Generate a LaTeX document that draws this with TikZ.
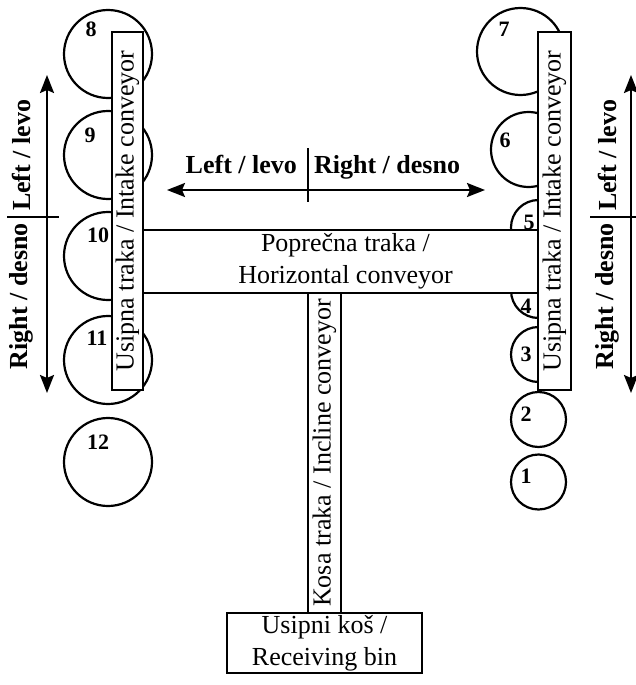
\documentclass[tikz,border=0pt]{standalone}
\usepackage{fontspec}
\setmainfont{Liberation Serif}
\usetikzlibrary{arrows.meta}
\begin{document}
\begin{tikzpicture}[x=1pt,y=-1pt, line width=2.2pt,
  conv/.style={draw, fill=white, inner sep=0pt, font=\fontsize{26}{32}\selectfont, align=center},
  roller/.style={draw, circle, inner sep=0pt},
  num/.style={font=\fontsize{22}{26}\selectfont\bfseries, inner sep=0pt},
  dirlab/.style={font=\fontsize{26}{32}\selectfont\bfseries, inner sep=0pt},
  dirarrow/.style={{Stealth[length=18pt,width=14pt,inset=3pt]}-{Stealth[length=18pt,width=14pt,inset=3pt]}}
]
\useasboundingbox (0,0) rectangle (636,685);

% rollers left
\node[roller, minimum size=88pt] (r8) at (108,54) {};
\node[roller, minimum size=88pt] (r9) at (108,155) {};
\node[roller, minimum size=88pt] (r10) at (108,256) {};
\node[roller, minimum size=88pt] (r11) at (108,360) {};
\node[roller, minimum size=88pt] (r12) at (108,462) {};
% rollers right
\node[roller, minimum size=87pt] (r7) at (520.5,51.5) {};
\node[roller, minimum size=75pt] (r6) at (528.5,149.5) {};
\node[roller, minimum size=55pt] (r5) at (538.5,227.5) {};
\node[roller, minimum size=55pt] (r4) at (538.5,290.5) {};
\node[roller, minimum size=55pt] (r3) at (538.5,354.5) {};
\node[roller, minimum size=55pt] (r2) at (538.5,419.5) {};
\node[roller, minimum size=55pt] (r1) at (538.5,482) {};

% conveyors
\node[conv, minimum width=395pt, minimum height=63pt] (hc) at (340.5,261.5) {\hspace*{10pt}Poprečna traka /\\ \hspace*{10pt}Horizontal conveyor};
\node[conv, rotate=90, minimum width=320pt, minimum height=33pt] (inc) at (324.5,453) {Kosa traka / Incline conveyor};
\node[conv, rotate=90, minimum width=358pt, minimum height=31pt] (lin) at (127.5,211) {Usipna traka / Intake conveyor};
\node[conv, rotate=90, minimum width=358pt, minimum height=33pt] (rin) at (554.5,211) {Usipna traka / Intake conveyor};
\node[conv, minimum width=195pt, minimum height=60pt] (bin) at (324.5,643) {Usipni koš /\\ Receiving bin};

% numbers
\node[num] at (91,29) {8};
\node[num] at (90,135) {9};
\node[num] at (98,235) {10};
\node[num] at (97,338) {11};
\node[num] at (98,442) {12};
\node[num] at (504,29) {7};
\node[num] at (505,140) {6};
\node[num] at (529,222) {5};
\node[num] at (526,306) {4};
\node[num] at (526,354) {3};
\node[num] at (526,414) {2};
\node[num] at (526,476) {1};

% horizontal direction arrow
\coordinate (hl) at (167,190);
\coordinate (hr) at (485,190);
\coordinate (ht) at (308,148);
\coordinate (hb) at (308,202);
\draw[dirarrow] (hl) -- (hr);
\draw (ht) -- (hb);
\node[dirlab, anchor=base east] at (298,173) {Left / levo};
\node[dirlab, anchor=base west] at (313,173) {Right / desno};

% left vertical direction arrow
\coordinate (lt) at (47,75);
\coordinate (lb) at (47,393);
\coordinate (ll) at (7,217);
\coordinate (lr) at (59,217);
\draw[dirarrow] (lt) -- (lb);
\draw (ll) -- (lr);
\node[dirlab, rotate=90, anchor=west] at (21,212) {Left / levo};
\node[dirlab, rotate=90, anchor=east] at (21,222) {Right / desno};

% right vertical direction arrow
\coordinate (rt) at (631,75);
\coordinate (rb) at (631,393);
\coordinate (rl) at (590,217);
\coordinate (rr) at (640,217);
\draw[dirarrow] (rt) -- (rb);
\draw (rl) -- (rr);
\node[dirlab, rotate=90, anchor=west] at (607,212) {Left / levo};
\node[dirlab, rotate=90, anchor=east] at (607,222) {Right / desno};
\end{tikzpicture}
\end{document}
